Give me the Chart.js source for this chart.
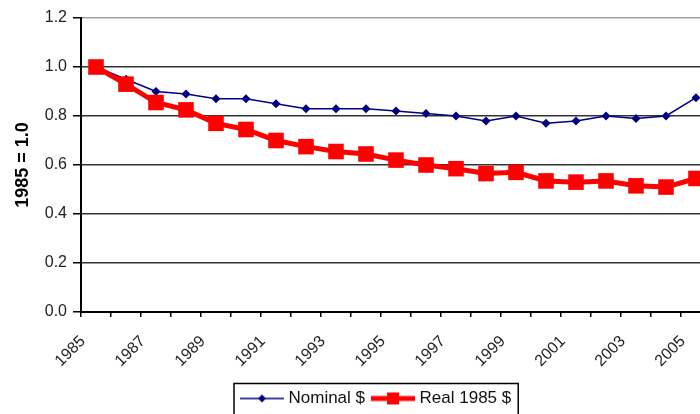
<!DOCTYPE html>
<html>
<head>
<meta charset="utf-8">
<script src="https://cdn.jsdelivr.net/npm/chart.js@4"></script>
<style>
  html, body { margin: 0; padding: 0; background: #fff; overflow: hidden; }
  #wrap { width: 722px; height: 417px; }
</style>
</head>
<body>
<div id="wrap"><canvas id="chart" width="722" height="417"></canvas></div>
<script>
// Years on the x axis
const years = ['1985', '1986', '1987', '1988', '1989', '1990', '1991', '1992', '1993', '1994',
               '1995', '1996', '1997', '1998', '1999', '2000', '2001', '2002', '2003', '2004', '2005'];

// Index values, 1985 = 1.0
const nominal = [1.00, 0.95, 0.90, 0.89, 0.87, 0.87, 0.85, 0.83, 0.83, 0.83,
                 0.82, 0.81, 0.80, 0.78, 0.80, 0.77, 0.78, 0.80, 0.79, 0.80, 0.875];
const real = [1.00, 0.93, 0.855, 0.825, 0.77, 0.745, 0.70, 0.675, 0.655, 0.645,
              0.62, 0.60, 0.585, 0.565, 0.57, 0.535, 0.53, 0.535, 0.515, 0.51, 0.545];

const seriesNames = ['Nominal $', 'Real 1985 $'];
const yTitle = '1985 = 1.0';

const FONT = "'Liberation Sans', Arial, sans-serif";

// little line + marker swatches for the legend, Excel style
function makeSwatch(color, lineWidth, drawMarker) {
    const c = document.createElement('canvas');
    c.width = 44;
    c.height = 16;
    const ctx = c.getContext('2d');
    ctx.strokeStyle = color;
    ctx.lineWidth = lineWidth;
    ctx.beginPath();
    ctx.moveTo(0, 8);
    ctx.lineTo(44, 8);
    ctx.stroke();
    ctx.fillStyle = color;
    drawMarker(ctx);
    return c;
}
const blueSwatch = makeSwatch('#000080', 1.5, ctx => {
    ctx.beginPath();
    ctx.moveTo(22, 4); ctx.lineTo(26, 8); ctx.lineTo(22, 12); ctx.lineTo(18, 8);
    ctx.closePath();
    ctx.fill();
});
const redSwatch = makeSwatch('#ff0000', 5, ctx => {
    ctx.fillRect(16, 2, 12, 12);
});

// put the legend where the reference has it and draw the box around it
const legendBox = {
    id: 'legendBox',
    afterLayout(chart) {
        const lg = chart.legend;
        const pad = lg.options.labels.padding;
        const start = (lg.left + pad + lg.right - lg.lineWidths[0]) / 2;
        const shift = 244 - start;
        lg.left += shift;
        lg.right += shift;
    },
    afterDraw(chart) {
        const lg = chart.legend;
        const hb = lg.legendHitBoxes;
        if (!hb || !hb.length) return;
        const last = hb[hb.length - 1];
        const ctx = chart.ctx;
        ctx.save();
        ctx.strokeStyle = '#000';
        ctx.lineWidth = 1.5;
        ctx.strokeRect(hb[0].left - 10, lg.top + 3.5, last.left + last.width + 17 - hb[0].left, chart.height);
        ctx.restore();
    }
};

const chart = new Chart(document.getElementById('chart'), {
    type: 'line',
    data: {
        labels: years,
        datasets: [
            {
                label: seriesNames[0],
                data: nominal,
                order: 1,
                borderColor: '#000080',
                backgroundColor: '#000080',
                borderWidth: 1.5,
                pointStyle: 'rectRot',
                pointRadius: 4.5,
                pointBorderWidth: 0,
                tension: 0
            },
            {
                label: seriesNames[1],
                data: real,
                order: 0,
                borderColor: '#ff0000',
                backgroundColor: '#ff0000',
                borderWidth: 5,
                pointStyle: 'rect',
                pointRadius: 11,
                pointBorderWidth: 0,
                tension: 0
            }
        ]
    },
    options: {
        responsive: false,
        animation: false,
        layout: { padding: { top: 18, left: 0, right: 1, bottom: 0 } },
        plugins: {
            tooltip: { enabled: false },
            legend: {
                position: 'bottom',
                labels: {
                    usePointStyle: true,
                    pointStyleWidth: 36,
                    padding: 10,
                    color: '#111',
                    font: { family: FONT, size: 17 },
                    generateLabels: () => [
                        { text: seriesNames[0], pointStyle: blueSwatch, datasetIndex: 0, fontColor: '#111', lineWidth: 0 },
                        { text: seriesNames[1], pointStyle: redSwatch, datasetIndex: 1, fontColor: '#111', lineWidth: 0 }
                    ]
                }
            }
        },
        scales: {
            x: {
                type: 'category',
                offset: true,
                afterFit: s => { s.height = 68; s.paddingRight = 0; s.paddingLeft = 0; },
                grid: { offset: true, drawOnChartArea: false, tickLength: 5, color: '#000', lineWidth: 1.5 },
                border: { color: '#000', width: 2 },
                ticks: {
                    autoSkip: false,
                    minRotation: 45,
                    maxRotation: 45,
                    labelOffset: -13,
                    padding: 15,
                    color: '#222',
                    font: { family: FONT, size: 16 },
                    callback: function(v, i) { return i % 2 === 0 ? this.getLabelForValue(v) : ''; }
                }
            },
            y: {
                min: 0,
                max: 1.2,
                afterFit: s => { s.width = 81; },
                grid: {
                    color: ctx => (ctx.tick && ctx.tick.value > 1.1 ? '#a0a0a0' : '#333'),
                    tickColor: '#000',
                    lineWidth: 1.5,
                    tickLength: 8
                },
                border: { color: '#000', width: 2 },
                ticks: {
                    stepSize: 0.2,
                    padding: 6,
                    color: '#222',
                    font: { family: FONT, size: 16 },
                    callback: v => v.toFixed(1)
                },
                title: {
                    display: true,
                    text: yTitle,
                    color: '#000',
                    font: { family: FONT, size: 18, weight: 'bold' },
                    padding: { top: 12, bottom: 0 }
                }
            }
        }
    },
    plugins: [legendBox]
});
</script>
</body>
</html>
